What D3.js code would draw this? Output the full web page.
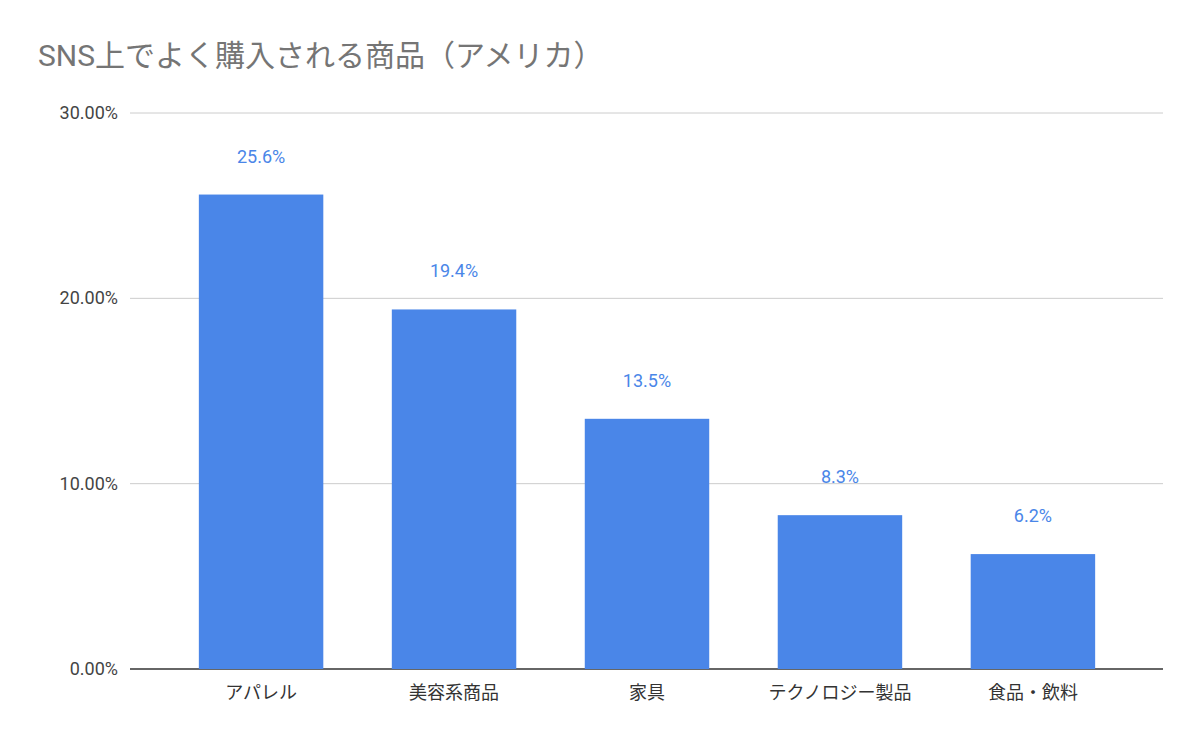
<!DOCTYPE html>
<html><head><meta charset="utf-8">
<script src="https://cdn.jsdelivr.net/npm/d3@7"></script>
<style>body{margin:0;background:#fff}</style></head>
<body><svg id="c" width="1200" height="742"></svg>
<script>
const categories = ["アパレル","美容系商品","家具","テクノロジー製品","食品・飲料"];
const values = [25.6, 19.4, 13.5, 8.3, 6.2];
const yTicks = [0, 10, 20, 30];
const font = "Roboto, 'Noto Sans CJK JP', sans-serif";
const svg = d3.select("#c");
const y = d3.scaleLinear().domain([0,30]).range([669,113]);
const x = d3.scaleBand().domain(categories).range([164.5,1129.5]).paddingInner(0.355).paddingOuter(0.178);
svg.append("text").attr("x",38).attr("y",66).attr("font-family",font).attr("font-size",30).attr("fill","#757575").text("SNS上でよく購入される商品（アメリカ）");
yTicks.forEach(t=>{
  svg.append("line").attr("x1",130).attr("x2",1163).attr("y1",y(t)).attr("y2",y(t)).attr("stroke",t===0?"#333":"#ccc").attr("stroke-width",t===0?1.5:1);
  svg.append("text").attr("x",118).attr("y",y(t)+6).attr("text-anchor","end").attr("font-family",font).attr("font-size",18).attr("fill","#444").text(t.toFixed(2)+"%");
});
svg.selectAll("rect.b").data(values).join("rect").attr("x",(d,i)=>x(categories[i])).attr("width",x.bandwidth()).attr("y",d=>y(d)).attr("height",d=>y(0)-y(d)).attr("fill","#4a86e8");
svg.selectAll("text.v").data(values).join("text").attr("x",(d,i)=>x(categories[i])+x.bandwidth()/2).attr("y",d=>y(d)-32).attr("text-anchor","middle").attr("font-family",font).attr("font-size",18).attr("fill","#4a86e8").text(d=>d.toFixed(1)+"%");
svg.selectAll("text.c").data(categories).join("text").attr("x",d=>x(d)+x.bandwidth()/2).attr("y",699).attr("text-anchor","middle").attr("font-family",font).attr("font-size",18).attr("fill","#333").text(d=>d);
</script></body></html>
